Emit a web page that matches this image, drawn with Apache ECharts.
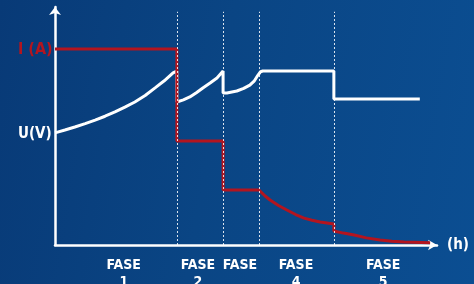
<!DOCTYPE html>
<html>
<head>
<meta charset="utf-8">
<script src="https://cdn.jsdelivr.net/npm/echarts@6/dist/echarts.min.js"></script>
<style>
html,body{margin:0;padding:0;}
#c{width:474px;height:284px;background:linear-gradient(100deg,#083a77 0%,#0a4584 45%,#0b4e92 100%);}
</style>
</head>
<body>
<div id="c"></div>
<script>
// Time axis (arbitrary hour units) and values (arbitrary units)
const phaseBounds = [31.9, 44.0, 53.4, 73.0];
const phaseLabelPos = [18, 37.4, 48.4, 63.1, 85.9];
const phaseLabels = ['FASE\n1', 'FASE\n2', 'FASE', 'FASE\n4', 'FASE\n5'];

const currentI = [
  [0, 82.4], [31.9, 82.4], [31.9, 43.7], [44.0, 43.7], [44.0, 23.1], [53.4, 23.1],
  [55.0, 20.6], [56.3, 18.9], [58.5, 16.6], [60.7, 14.7], [63.0, 12.8], [65.2, 11.3],
  [67.3, 10.4], [69.4, 9.7], [73.0, 8.8], [73.0, 5.9], [75.5, 5.0], [78.3, 4.2],
  [81.5, 3.0], [85.1, 2.1], [88.2, 1.6], [91.4, 1.3], [98.2, 0.9]
];
const voltageU = [
  [0, 47.1], [2.6, 48.3], [5.2, 49.6], [7.9, 51.0], [10.5, 52.5], [13.1, 54.1],
  [15.7, 55.9], [18.3, 57.9], [20.9, 60.1], [23.6, 62.8], [26.2, 66.0], [28.6, 69.0],
  [30.9, 72.3], [31.9, 73.1], [31.9, 60.1], [33.6, 61.0], [35.3, 62.2], [37.0, 64.0],
  [38.7, 66.0], [40.6, 68.1], [42.4, 70.2], [44.0, 73.1], [44.0, 63.9], [45.0, 63.9],
  [47.6, 64.7], [49.4, 65.8], [51.0, 67.2], [52.2, 69.0], [53.1, 71.3], [53.8, 72.8], [54.4, 73.1],
  [73.0, 73.1], [73.0, 61.3], [95.5, 61.3]
];

const chart = echarts.init(document.getElementById('c'), null, {renderer: 'canvas'});
const font = '"Liberation Sans Narrow","DejaVu Sans Condensed",Arial,sans-serif';
chart.setOption({
  animation: false,
  grid: {left: 55, right: 37, top: 7, bottom: 39, containLabel: false, outerBoundsMode: 'none'},
  xAxis: {
    type: 'value', min: 0, max: 100,
    splitLine: {show: false},
    axisTick: {show: false},
    axisLine: {show: true, lineStyle: {color: '#ffffff', width: 2.5}, symbol: ['none', 'arrow'], symbolSize: [8, 9]},
    axisLabel: {
      show: true, customValues: phaseLabelPos, margin: 12,
      color: '#ffffff', fontFamily: font, fontWeight: 'bold', fontSize: 14, lineHeight: 17,
      formatter: function (v) { const i = phaseLabelPos.indexOf(v); return i >= 0 ? phaseLabels[i] : ''; }
    },
    name: '(h)', nameLocation: 'end', nameGap: 10,
    nameTextStyle: {color: '#ffffff', fontFamily: font, fontWeight: 'bold', fontSize: 15, verticalAlign: 'middle'}
  },
  yAxis: {
    type: 'value', min: 0, max: 100,
    splitLine: {show: false},
    axisTick: {show: false},
    axisLabel: {show: false},
    axisLine: {show: true, lineStyle: {color: '#ffffff', width: 2.5}, symbol: ['none', 'arrow'], symbolSize: [9, 8]}
  },
  series: [
    {
      name: 'U(V)', type: 'line', data: voltageU, showSymbol: false, symbol: 'none',
      lineStyle: {color: '#ffffff', width: 3}, z: 3,
      markLine: {
        silent: true, symbol: 'none', label: {show: false},
        lineStyle: {color: '#ffffff', type: [2, 2], width: 1, opacity: 0.85},
        data: phaseBounds.map(b => [{coord: [b, 0]}, {coord: [b, 98]}])
      }
    },
    {
      name: 'I (A)', type: 'line', data: currentI, showSymbol: false, symbol: 'none',
      lineStyle: {color: '#b3151f', width: 3}, z: 4
    }
  ],
  graphic: [
    {type: 'text', left: 18, top: 42, style: {text: 'I (A)', fill: '#b3151f', font: 'bold 16px ' + font}},
    {type: 'text', left: 18, top: 127, style: {text: 'U(V)', fill: '#ffffff', font: 'bold 15px ' + font}}
  ]
});
</script>
</body>
</html>
